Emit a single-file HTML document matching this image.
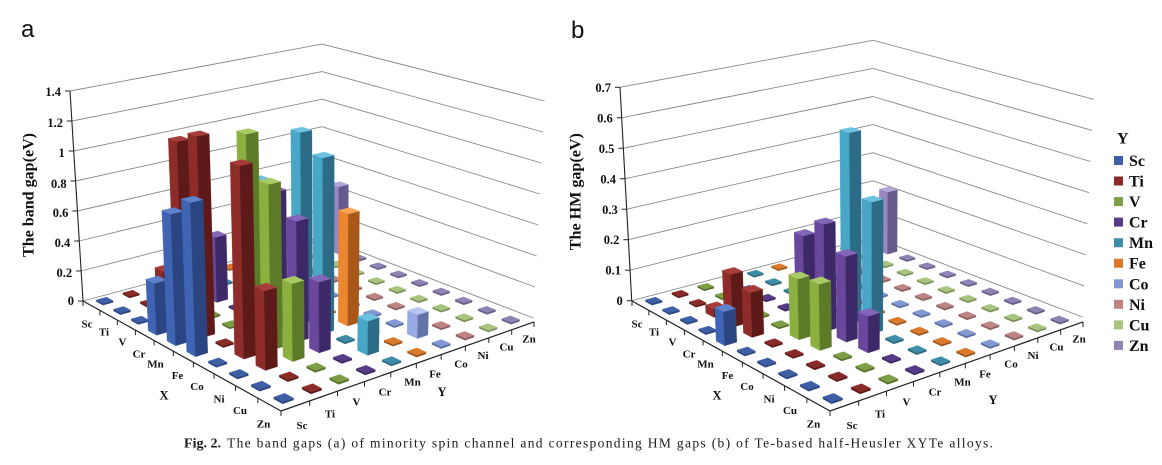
<!DOCTYPE html>
<html><head><meta charset="utf-8">
<style>
html,body{margin:0;padding:0;background:#fff;}
svg{display:block;}
.tk{font-family:"Liberation Serif",serif;font-weight:bold;font-size:12.5px;fill:#111;text-anchor:end;}
.cl{font-family:"Liberation Serif",serif;font-weight:bold;font-size:11px;fill:#111;text-anchor:middle;}
.ax{font-family:"Liberation Serif",serif;font-weight:bold;font-size:12.5px;fill:#111;text-anchor:middle;}
.ti{font-family:"Liberation Serif",serif;font-weight:bold;font-size:16px;fill:#111;text-anchor:middle;}
.lg{font-family:"Liberation Serif",serif;font-weight:bold;font-size:16px;fill:#111;}
.pl{font-family:"Liberation Sans",sans-serif;font-size:24px;fill:#111;}
.cap{font-family:"Liberation Serif",serif;font-size:13.5px;fill:#1a1a1a;}
</style></head><body>
<svg id="s" width="1162" height="465" viewBox="0 0 1162 465" xmlns="http://www.w3.org/2000/svg">
<rect width="1162" height="465" fill="#fff"/>
<g id="grid"></g>
<g id="axes"></g>
<g id="bars"></g>
<g id="labels">
<text class="pl" x="21" y="37">a</text>
<text class="pl" x="571" y="38">b</text>

<text class="tk" x="61" y="96.2">1.4</text>
<text class="tk" x="63" y="127.2">1.2</text>
<text class="tk" x="64.7" y="157.2">1</text>
<text class="tk" x="66.6" y="187.8">0.8</text>
<text class="tk" x="68.4" y="217.2">0.6</text>
<text class="tk" x="70.3" y="246.8">0.4</text>
<text class="tk" x="72.1" y="276.8">0.2</text>
<text class="tk" x="74" y="305.2">0</text>

<text class="tk" x="611" y="91.8">0.7</text>
<text class="tk" x="612.7" y="122.3">0.6</text>
<text class="tk" x="614.4" y="152.8">0.5</text>
<text class="tk" x="616" y="183.3">0.4</text>
<text class="tk" x="617.7" y="213.8">0.3</text>
<text class="tk" x="619.4" y="244.2">0.2</text>
<text class="tk" x="621" y="274.7">0.1</text>
<text class="tk" x="622.7" y="305.2">0</text>

<text class="ti" transform="translate(33.5,195) rotate(-90)" textLength="124" lengthAdjust="spacingAndGlyphs">The band gap(eV)</text>
<text class="ti" transform="translate(580.5,191.7) rotate(-90)" textLength="117" lengthAdjust="spacingAndGlyphs">The HM gap(eV)</text>

<text class="cl" x="87" y="327.3">Sc</text>
<text class="cl" x="104" y="335.7">Ti</text>
<text class="cl" x="122.5" y="345.7">V</text>
<text class="cl" x="139" y="357.3">Cr</text>
<text class="cl" x="155.5" y="367.3">Mn</text>
<text class="cl" x="177.5" y="379">Fe</text>
<text class="cl" x="197" y="390">Co</text>
<text class="cl" x="219" y="402.3">Ni</text>
<text class="cl" x="240" y="414">Cu</text>
<text class="cl" x="263.5" y="427.3">Zn</text>
<text class="ax" x="164" y="399.5">X</text>
<text class="cl" x="302" y="429">Sc</text>
<text class="cl" x="330" y="417.3">Ti</text>
<text class="cl" x="356.5" y="405.7">V</text>
<text class="cl" x="385" y="395.7">Cr</text>
<text class="cl" x="412.5" y="385.7">Mn</text>
<text class="cl" x="435" y="377.3">Fe</text>
<text class="cl" x="461" y="367.3">Co</text>
<text class="cl" x="483" y="359">Ni</text>
<text class="cl" x="506.5" y="350.7">Cu</text>
<text class="cl" x="529" y="342.3">Zn</text>
<text class="ax" x="442" y="396">Y</text>

<text class="cl" x="637" y="327.3">Sc</text>
<text class="cl" x="654" y="335.7">Ti</text>
<text class="cl" x="672.5" y="345.7">V</text>
<text class="cl" x="689" y="357.3">Cr</text>
<text class="cl" x="705.5" y="367.3">Mn</text>
<text class="cl" x="727.5" y="379">Fe</text>
<text class="cl" x="747" y="390">Co</text>
<text class="cl" x="769" y="402.3">Ni</text>
<text class="cl" x="790" y="414">Cu</text>
<text class="cl" x="813.5" y="427.3">Zn</text>
<text class="ax" x="717" y="399.5">X</text>
<text class="cl" x="852" y="429">Sc</text>
<text class="cl" x="880" y="417.3">Ti</text>
<text class="cl" x="906.5" y="405.7">V</text>
<text class="cl" x="935" y="395.7">Cr</text>
<text class="cl" x="962.5" y="385.7">Mn</text>
<text class="cl" x="985" y="377.3">Fe</text>
<text class="cl" x="1011" y="367.3">Co</text>
<text class="cl" x="1033" y="359">Ni</text>
<text class="cl" x="1056.5" y="350.7">Cu</text>
<text class="cl" x="1079" y="342.3">Zn</text>
<text class="ax" x="993" y="404">Y</text>

<text class="lg" x="1117" y="143.5">Y</text>
<rect x="1114" y="156" width="9" height="9" fill="#3E5FA6"/><text class="lg" x="1129" y="166">Sc</text>
<rect x="1114" y="176.5" width="9" height="9" fill="#8A2B29"/><text class="lg" x="1129" y="186.5">Ti</text>
<rect x="1114" y="197.1" width="9" height="9" fill="#7E9E45"/><text class="lg" x="1129" y="207.1">V</text>
<rect x="1114" y="217.6" width="9" height="9" fill="#563C88"/><text class="lg" x="1129" y="227.6">Cr</text>
<rect x="1114" y="238.2" width="9" height="9" fill="#3D8DA8"/><text class="lg" x="1129" y="248.2">Mn</text>
<rect x="1114" y="258.7" width="9" height="9" fill="#DB7A2C"/><text class="lg" x="1129" y="268.7">Fe</text>
<rect x="1114" y="279.3" width="9" height="9" fill="#8198D2"/><text class="lg" x="1129" y="289.3">Co</text>
<rect x="1114" y="299.8" width="9" height="9" fill="#BE8383"/><text class="lg" x="1129" y="309.8">Ni</text>
<rect x="1114" y="320.4" width="9" height="9" fill="#A9C47E"/><text class="lg" x="1129" y="330.4">Cu</text>
<rect x="1114" y="340.9" width="9" height="9" fill="#8F82B4"/><text class="lg" x="1129" y="350.9">Zn</text>

<text class="cap" x="184" y="447.5" font-weight="bold" textLength="37" lengthAdjust="spacingAndGlyphs">Fig. 2.</text>
<text class="cap" x="227" y="447.5" textLength="766" lengthAdjust="spacing">The band gaps (a) of minority spin channel and corresponding HM gaps (b) of Te-based half-Heusler XYTe alloys.</text>
</g>
</svg>
<script>
(function(){
const NS="http://www.w3.org/2000/svg";
const gGrid=document.getElementById('grid'),gAx=document.getElementById('axes'),gBars=document.getElementById('bars');
const H={a:152.83,b:279.51,c:83,d:43.93,e:-34.19,f:301,g:-0.16075,h:0.1258};
const VX=325,VY=4217;
function P(u,v,t,dx){const X=H.a*u+H.b*v+H.c+t*VX,Y=H.d*u+H.e*v+H.f+t*VY,W=H.g*u+H.h*v+1+t;return [X/W+dx,Y/W];}
function el(g,tag,attrs){const e=document.createElementNS(NS,tag);for(const k in attrs)e.setAttribute(k,attrs[k]);g.appendChild(e);return e;}
function ln(g,x1,y1,x2,y2,c,w){el(g,'line',{x1:x1.toFixed(2),y1:y1.toFixed(2),x2:x2.toFixed(2),y2:y2.toFixed(2),stroke:c,'stroke-width':w});}
function pg(g,pts,fill){el(g,'polygon',{points:pts.map(q=>q[0].toFixed(2)+','+q[1].toFixed(2)).join(' '),fill:fill,stroke:fill,'stroke-width':0.3,'stroke-linejoin':'round'});}
const COL=[
 {t:'#5E82CA',l:'#3F64B4',r:'#2A4582',m:'#3E5FA6',md:'#2A4580'},
 {t:'#A83C3A',l:'#8E2C2A',r:'#5E1A19',m:'#8A2B29',md:'#5E1A19'},
 {t:'#A9CB63',l:'#8BB03F',r:'#5C7A28',m:'#7E9E45',md:'#566E2C'},
 {t:'#8466B9',l:'#69479D',r:'#3E2968',m:'#563C88',md:'#3A2860'},
 {t:'#6CC2DF',l:'#48A6C7',r:'#2C6C86',m:'#3D8DA8',md:'#2A6478'},
 {t:'#F8A656',l:'#EA8730',r:'#A95819',m:'#DB7A2C',md:'#9C561C'},
 {t:'#B8C6F2',l:'#97AAE3',r:'#6373A6',m:'#8198D2',md:'#5A6C9A'},
 {t:'#D9A3A3',l:'#C08585',r:'#865858',m:'#BE8383',md:'#875C5C'},
 {t:'#C8DFA5',l:'#AFC98A',r:'#7A915C',m:'#A9C47E',md:'#788E58'},
 {t:'#B3A6D6',l:'#9888C0',r:'#675A8C',m:'#8F82B4',md:'#645A82'}
];
function solve(u,v,s,dx,topY){let lo=-0.12,hi=0;for(let it=0;it<50;it++){const m=(lo+hi)/2;const y=Math.min(P(u-s,v-s,m,dx)[1],P(u+s,v-s,m,dx)[1],P(u+s,v+s,m,dx)[1],P(u-s,v+s,m,dx)[1]);if(y>topY)hi=m;else lo=m;}return (lo+hi)/2;}
function panel(dx,G,bars){
  for(let k=0;k<=7;k++){
    const Lx=G.L[0]+G.L[2]*k,Ly=G.L[1]+G.L[3]*k;
    const Bx=G.B[0]+G.B[2]*k,By=G.B[1]+G.B[3]*k;
    const Rx=G.R[0]+G.R[2]*k,Ry=G.R[1]+G.R[3]*k;
    ln(gGrid,Lx,Ly,Bx,By,'#8a8a8a',0.9);
    ln(gGrid,Bx,By,Rx,Ry,'#8a8a8a',0.9);
    ln(gAx,Lx-5,Ly,Lx,Ly,'#222',1);
  }
  ln(gAx,G.L[0],G.L[1],G.L[0]+G.L[2]*7,G.L[1]+G.L[3]*7,'#222',1.1);
  const p00=P(0,0,0,dx),p10=P(1,0,0,dx),p11=P(1,1,0,dx);
  ln(gAx,p00[0],p00[1],p10[0],p10[1],'#222',1.2);
  ln(gAx,p10[0],p10[1],p11[0],p11[1],'#222',1.2);
  for(let i=0;i<=10;i++){
    const a=P(i/10,0,0,dx);ln(gAx,a[0],a[1],a[0],a[1]+5,'#222',1);
    const b=P(1,i/10,0,dx);ln(gAx,b[0],b[1],b[0],b[1]+5,'#222',1);
  }
  const map={};bars.forEach(b=>{map[b[0]+','+b[1]]=b[2];});
  const cells=[];
  for(let i=0;i<10;i++)for(let j=0;j<10;j++){const u=(i+.5)/10,v=(j+.5)/10;cells.push({i:i,j:j,u:u,v:v,key:H.g*u+H.h*v,top:map[i+','+j]});}
  cells.sort((a,b)=>b.key-a.key);
  cells.forEach(c=>{
    const C=COL[c.j];
    let s,t,fl,fr,ft;
    if(c.top===undefined){
      s=0.019;t=-0.00045;fl=C.md;fr=C.md;ft=C.m;
    }else{
      s=0.022;t=solve(c.u,c.v,s,dx,c.top);fl=C.l;fr=C.r;ft=C.t;
    }
    const c0=[c.u-s,c.v-s],c1=[c.u+s,c.v-s],c2=[c.u+s,c.v+s],c3=[c.u-s,c.v+s];
    const B=q=>P(q[0],q[1],0,dx),T=q=>P(q[0],q[1],t,dx);
    pg(gBars,[B(c0),B(c1),T(c1),T(c0)],fl);
    pg(gBars,[B(c1),B(c2),T(c2),T(c1)],fr);
    pg(gBars,[T(c0),T(c1),T(c2),T(c3)],ft);
  });
}
const barsA=[[3,0,276],[4,0,207.5],[5,0,196],[2,1,264.5],[3,1,136],[4,1,130.7],[6,1,159.5],[7,1,283],
 [5,2,128.5],[6,2,178],[7,2,276],[2,3,231],[5,3,186],[6,3,214.5],[7,3,274.5],[3,4,175.5],[5,4,127],
 [6,4,152],[8,4,313],[6,5,207.5],[8,6,307],[1,9,181.5]];
const barsB=[[4,0,304],[2,1,301.7],[3,1,267.3],[4,1,285],[5,2,271.7],[6,2,276.7],[4,3,229.3],[5,3,217.7],
 [6,3,249.3],[7,3,308.3],[5,4,127.3],[6,4,195.7],[1,9,186.7]];
panel(0,{L:[83,301,-1.857,-30],B:[322,237,0,-27.57],R:[533.5,318,1.6,-31]},barsA);
panel(549,{L:[631.7,300.7,-1.67,-30.49],B:[873,237,0,-28.1],R:[1082.5,317,1.6,-31.1]},barsB);
})();
</script>
</body></html>
